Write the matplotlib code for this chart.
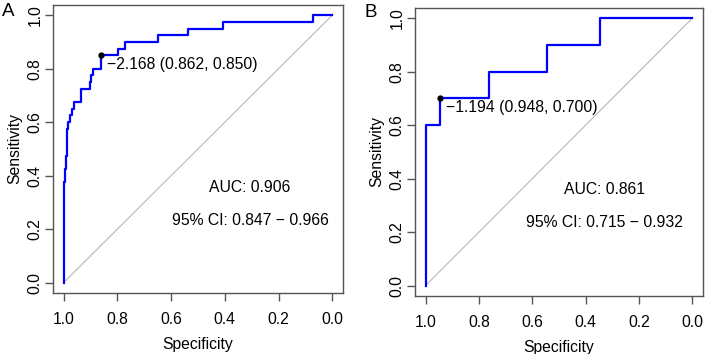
import numpy as np
import matplotlib
matplotlib.use("Agg")
import matplotlib.pyplot as plt

plt.rcParams['font.family'] = ['Liberation Sans', 'DejaVu Sans']

# ROC points, panel A (specificity, sensitivity)
spec_a = [1.0, 1.0, 0.999, 0.994, 0.990, 0.988, 0.983, 0.975, 0.969, 0.963,
          0.934, 0.903, 0.897, 0.891, 0.862, 0.797, 0.772, 0.648, 0.538,
          0.406, 0.072, 0.0]
sens_a = [0.0, 0.325, 0.375, 0.425, 0.475, 0.575, 0.6, 0.625, 0.65, 0.675,
          0.725, 0.75, 0.775, 0.8, 0.85, 0.875, 0.9, 0.925, 0.95,
          0.975, 1.0, 1.0]
thr_a = (-2.168, 0.862, 0.850)
auc_a = 0.906
ci_a = (0.847, 0.966)

# ROC points, panel B
spec_b = [1.0, 1.0, 0.948, 0.763, 0.544, 0.347, 0.0]
sens_b = [0.0, 0.6, 0.7, 0.8, 0.9, 1.0, 1.0]
thr_b = (-1.194, 0.948, 0.700)
auc_b = 0.861
ci_b = (0.715, 0.932)

ticks = [1.0, 0.8, 0.6, 0.4, 0.2, 0.0]
tick_labels = ["1.0", "0.8", "0.6", "0.4", "0.2", "0.0"]

W, H = 709, 354
fig = plt.figure(figsize=(W / 100, H / 100), dpi=100)

def px_axes(left, top, right, bottom):
    return fig.add_axes([left / W, 1 - bottom / H, (right - left) / W, (bottom - top) / H])

ax_a = px_axes(53, 4.5, 343, 293.2)
ax_b = px_axes(415, 7.5, 703, 296.2)

fs = 11.3
panels = [(ax_a, spec_a, sens_a, thr_a, auc_a, ci_a, "A", 0.306, 0.354, 0.232),
          (ax_b, spec_b, sens_b, thr_b, auc_b, ci_b, "B", 0.329, 0.358, 0.235)]

for ax, sp, se, thr, auc, ci, lab, tx, ty_auc, ty_ci in panels:
    ax.plot([1, 0], [0, 1], color='#b8b8b8', lw=0.8, zorder=1)
    ax.plot(sp, se, drawstyle='steps-post', color='#0000ff', lw=1.6, zorder=2)
    ax.plot(thr[1], thr[2], 'o', color='black', ms=3.5, zorder=3)
    ax.annotate("\u2212%.3f (%.3f, %.3f)" % (-thr[0], thr[1], thr[2]),
                xy=(thr[1], thr[2]), xytext=(4.5, -6.5), textcoords='offset points',
                ha='left', va='center', fontsize=fs)
    ax.text(tx, ty_auc, "AUC: %.3f" % auc, ha='center', va='center', fontsize=fs)
    ax.text(tx, ty_ci, "95%% CI: %.3f \u2212 %.3f" % ci, ha='center', va='center', fontsize=fs)

    ax.set_xlim(1.04, -0.04)
    ax.set_ylim(-0.04, 1.04)
    ax.set_xticks(ticks)
    ax.set_xticklabels(tick_labels)
    ax.set_yticks(ticks)
    ax.set_yticklabels(tick_labels, rotation=90, va='center')
    for s in ax.spines.values():
        s.set_color('#555555')
        s.set_linewidth(1.0)
    ax.tick_params(direction='out', length=6, width=1.0, color='#555555',
                   labelsize=fs, labelcolor='black')
    ax.tick_params(axis='x', pad=7.5)
    ax.tick_params(axis='y', pad=1.5)
    ax.set_xlabel("Specificity", fontsize=fs, labelpad=7)
    ax.set_ylabel("Sensitivity", fontsize=fs, labelpad=4)

fig.text(8.5 / W, 1 - 11.5 / H, "A", fontsize=13.5, ha='center', va='center')
fig.text(371 / W, 1 - 12.5 / H, "B", fontsize=13.5, ha='center', va='center')

fig.savefig("out.png", dpi=100)
